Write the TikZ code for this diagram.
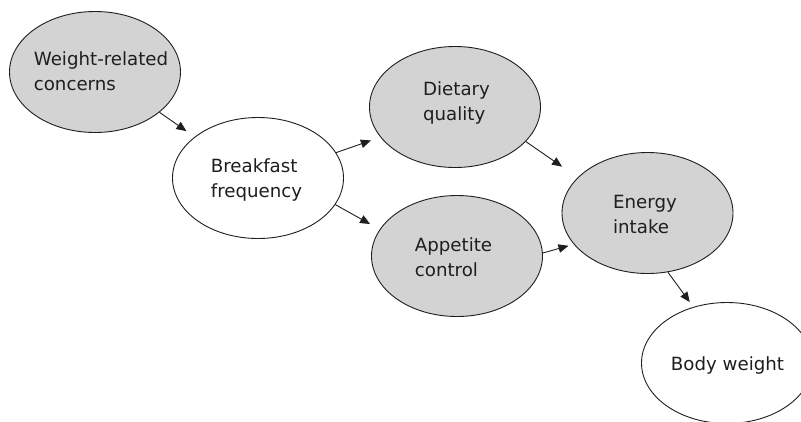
\documentclass[tikz,border=0pt]{standalone}
\usepackage{fontspec}
\setmainfont{DejaVu Sans}
\usetikzlibrary{shapes.geometric,arrows.meta,calc}
\definecolor{bubble}{RGB}{211,211,211}
\definecolor{ink}{RGB}{30,30,30}
\begin{document}
\begin{tikzpicture}[x=1pt,y=-1pt,
  factor/.style={ellipse, draw=ink, line width=0.9pt, minimum width=171pt,
    minimum height=121pt, inner sep=0pt},
  shaded/.style={factor, fill=bubble},
  plain/.style={factor, fill=white},
  caption/.style={inner sep=0pt, align=left, text=ink,
    font=\fontsize{18.2}{25}\selectfont},
  link/.style={draw=ink, line width=0.9pt,
    -{Triangle[length=10pt,width=8.5pt]}}]
\useasboundingbox (0,0) rectangle (801,421);
\clip (0,0) rectangle (801,421);

% factors
\node[shaded] (wrc) at (95,72)    {};
\node[plain]  (bf)  at (258,178)  {};
\node[shaded] (dq)  at (455,107)  {};
\node[shaded] (ac)  at (457,256)  {};
\node[shaded] (ei)  at (647.5,213) {};
\node[plain]  (bw)  at (727,363)  {};

% labels
\node[caption] (wrc-t) at ($(wrc)+(6,-0.6)$)   {Weight-related\\concerns};
\node[caption] (bf-t)  at ($(bf)+(-1.5,1.8)$)  {Breakfast\\frequency};
\node[caption] (dq-t)  at ($(dq)+(1.5,-4)$)    {Dietary\\quality};
\node[caption] (ac-t)  at ($(ac)+(-3.5,1.6)$)  {Appetite\\control};
\node[caption] (ei-t)  at ($(ei)+(-2.5,1)$)    {Energy\\intake};
\node[caption] (bw-t)  at ($(bw)+(0.5,2)$)     {Body weight};

% paths
\draw[link, shorten >=10pt]  (wrc.-32) -- (bf.147);
\draw[link, shorten >=10pt]  (bf.18)   -- (dq.-158);
\draw[link, shorten >=11pt]  (bf.-19)  -- (ac.161);
\draw[link, shorten >=19pt]  (dq.-26)  -- (ei.153);
\draw[link, shorten >=5.5pt] (ac.2)    -- (ei.-157);
\draw[link, shorten >=6pt]   (ei.-71)  -- (bw.121);
\end{tikzpicture}
\end{document}
